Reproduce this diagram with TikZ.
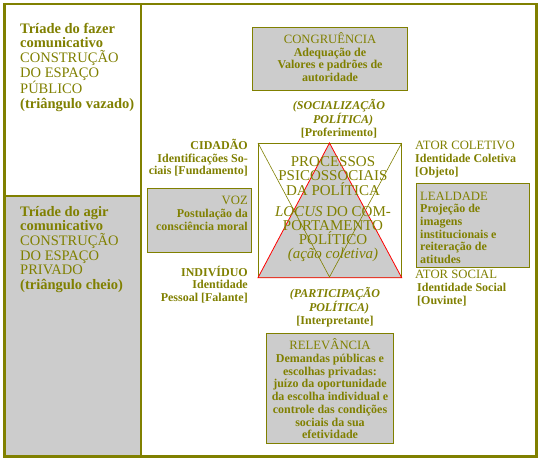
\documentclass[tikz,border=0pt]{standalone}
\usepackage{fontspec}
\setmainfont{Liberation Serif}
\definecolor{ol}{HTML}{808000}
\definecolor{gr}{HTML}{CCCCCC}
\begin{document}
\begin{tikzpicture}[x=1pt,y=-1pt,
  box/.style={draw=ol,line width=1pt,fill=gr,inner sep=0,anchor=north west},
  panel/.style={draw=ol,line width=1.5pt,inner sep=0,anchor=north west},
  sm/.style={text=ol,inner sep=0,font=\fontsize{12}{12.7}\selectfont\bfseries},
  lt/.style={text=ol,inner sep=0,align=left,font=\fontsize{14.5}{14.7}\selectfont},
  ct/.style={text=ol,inner sep=0,align=center,font=\fontsize{15}{15}\selectfont},
]
\newcommand{\hdr}[1]{{\fontsize{12.7}{12.7}\selectfont\mdseries #1}}
\useasboundingbox (0,0) rectangle (539,460);
% panels
\node[panel,fill=white,minimum width=531pt,minimum height=451pt] (outer) at (4,4) {};
\node[panel,fill=white,minimum width=136pt,minimum height=191pt] (ptop) at (4,4) {};
\node[panel,fill=gr,minimum width=136pt,minimum height=260pt] (pbot) at (4,195) {};
\draw[ol,line width=2pt] (outer.north west) rectangle (outer.south east);
% left texts (anchor base = last line baseline)
\node[lt,anchor=base west] (ttop) at (20,108.5) {\textbf{Tríade do fazer}\\\textbf{comunicativo}\\CONSTRUÇÃO\\DO ESPAÇO\\PÚBLICO\\\textbf{(triângulo vazado)}};
\node[lt,anchor=base west] (tbot) at (20,289.5) {\textbf{Tríade do agir}\\\textbf{comunicativo}\\CONSTRUÇÃO\\DO ESPAÇO\\PRIVADO\\\textbf{(triângulo cheio)}};
% boxes
\node[box,minimum width=155pt,minimum height=63pt] (cong) at (252,27) {};
\node[box,minimum width=104pt,minimum height=64pt] (voz) at (147,188) {};
\node[box,minimum width=113pt,minimum height=84pt] (leal) at (416,183) {};
\node[box,minimum width=127pt,minimum height=110pt] (rel) at (266,333) {};
% square and triangles
\node[draw=ol,line width=0.7pt,fill=white,inner sep=0,anchor=north west,minimum width=143pt,minimum height=134pt] (sq) at (258,143) {};
\coordinate (apex) at (329.5,143);
\coordinate (bot) at (329.5,277);
\fill[gr] (sq.south west) -- (apex) -- (sq.south east) -- cycle;
\draw[red,line width=0.8pt] (sq.south west) -- (apex) -- (sq.south east) -- cycle;
\draw[ol,line width=0.6pt] (sq.north west) -- (bot) -- (sq.north east);
% box texts
\node[sm,align=center,anchor=base] (congt) at (330,81.6) {\hdr{CONGRUÊNCIA}\\Adequação de\\Valores e padrões de\\autoridade};
\node[sm,align=right,anchor=base east] (vozt) at (248,230) {\hdr{VOZ}\\Postulação da\\consciência moral};
\node[sm,align=left,anchor=base west] (lealt) at (420,263.5) {\hdr{LEALDADE}\\Projeção de\\imagens\\institucionais e\\reiteração de\\atitudes};
\node[sm,align=center,anchor=base] (relt) at (330,438.7) {\hdr{RELEVÂNCIA}\\Demandas públicas e\\escolhas privadas:\\juízo da oportunidade\\da escolha individual e\\controle das condições\\sociais da sua\\efetividade};
% vertex labels
\node[sm,align=right,anchor=base east] (cid) at (248,174.9) {CIDADÃO\\Identificações So-\\ciais [Fundamento]};
\node[sm,align=right,anchor=base east] (ind) at (248,301.4) {INDIVÍDUO\\Identidade\\Pessoal [Falante]};
\node[sm,align=left,anchor=base west,font=\fontsize{12}{13}\selectfont\bfseries] (atc) at (415,175.3) {\hdr{ATOR COLETIVO}\\Identidade Coletiva\\{[Objeto]}};
\node[sm,align=left,anchor=base west,font=\fontsize{12}{13}\selectfont\bfseries] (ats) at (415,304.3) {\hdr{ATOR SOCIAL}\\\hspace{2pt}Identidade Social\\\hspace{2pt}{[Ouvinte]}};
\node[sm,align=center,anchor=base] (soc) at (339,136) {\itshape(SOCIALIZAÇÃO\\\itshape\hspace{8pt}POLÍTICA)\\{[Proferimento]}};
\node[sm,align=center,anchor=base] (part) at (335,324.4) {\itshape(PARTICIPAÇÃO\\\itshape\hspace{8pt}POLÍTICA)\\{[Interpretante]}};
% center texts
\node[ct,anchor=base] (proc) at (333,196) {PROCESSOS\\PSICOSSOCIAIS\\DA POLÍTICA};
\node[ct,anchor=base,font=\fontsize{15}{14.3}\selectfont] (locus) at (333,258.9) {\textit{LOCUS} DO COM-\\PORTAMENTO\\POLÍTICO\\\textit{(ação coletiva)}};
\end{tikzpicture}
\end{document}
